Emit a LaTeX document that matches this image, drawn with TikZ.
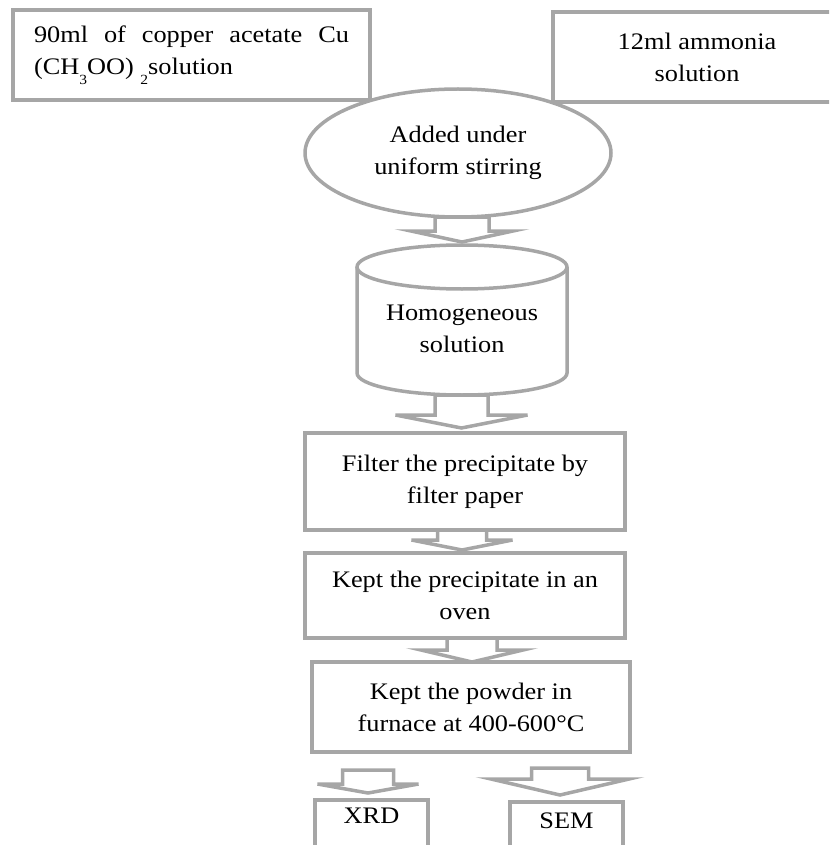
\documentclass[tikz,border=0pt]{standalone}
\usepackage{fontspec}
\setmainfont{Liberation Serif}[FakeStretch=1.11]
\usetikzlibrary{shapes.geometric,calc}

\definecolor{flowgray}{HTML}{A6A6A6}
\newcommand{\flowfont}{\fontsize{23.7}{32}\selectfont}
\newcommand{\lowsub}[1]{\raisebox{-0.4em}{\fontsize{14}{14}\selectfont #1}}

\tikzset{
	flowline/.style={draw=flowgray, line width=3.5pt},
	stepbox/.style={flowline, rectangle, fill=white, inner sep=0pt, outer sep=0pt, align=center, font=\flowfont},
	stirbox/.style={flowline, ellipse, fill=white, inner sep=0pt, outer sep=0pt, align=center, font=\flowfont},
	arrowline/.style={flowline, line join=miter}
}

% block arrow: from, to, centre x, half shaft, half head, head length, top gap, tip gap
\newcommand{\blockarrow}[8]{%
	\draw[arrowline] let \p1=(#1.south), \p2=(#2.north) in
		(#3-#4,\y1-#7) -- (#3-#4,\y2+#8+#6) -- (#3-#5,\y2+#8+#6) -- (#3,\y2+#8)
		-- (#3+#5,\y2+#8+#6) -- (#3+#4,\y2+#8+#6) -- (#3+#4,\y1-#7) -- cycle;}

\begin{document}
\begin{tikzpicture}[x=1pt, y=1pt]
	\useasboundingbox (0,0) rectangle (829,-845);
	\clip (0,0) rectangle (829,-845);

	% Inputs
	\node[stepbox, minimum width=357, minimum height=90, text width=315, align=justify] (acetate) at (191.5,-55)
		{90ml of copper acetate Cu\linebreak (CH\lowsub{3}OO) \lowsub{2}solution};
	\node[stepbox, minimum width=288, minimum height=90] (ammonia) at (697,-57) {12ml ammonia\\solution};

	% Mixing
	\node[stirbox, minimum width=306, minimum height=128] (stir) at (458,-153) {Added under\\uniform stirring};

	% Homogeneous solution (drum)
	\node[rectangle, inner sep=0pt, outer sep=0pt, minimum width=210, minimum height=150] (drum) at (462,-320) {};
	\draw[flowline] ($(drum.north west)+(0,-22)$) -- ($(drum.south west)+(0,22)$)
		arc[start angle=180, end angle=360, x radius=105, y radius=22] -- ($(drum.north east)+(0,-22)$);
	\draw[flowline] ($(drum.north)+(0,-22)$) ellipse [x radius=105, y radius=22];
	\node[font=\flowfont, align=center] (drumtext) at (462,-329) {Homogeneous\\solution};

	% Processing steps
	\node[stepbox, minimum width=320, minimum height=97] (filter) at (465,-481.5) {Filter the precipitate by\\filter paper};
	\node[stepbox, minimum width=320, minimum height=85] (oven) at (465,-595.5) {Kept the precipitate in an\\oven};
	\node[stepbox, minimum width=318, minimum height=90] (furnace) at (471,-707) {Kept the powder in\\furnace at 400-600°C};

	% Characterisation
	\node[stepbox, minimum width=113, minimum height=66, text height=16pt, text depth=36pt] (xrd) at (371.5,-833) {XRD};
	\node[stepbox, minimum width=113, minimum height=72, text height=16pt, text depth=36pt] (sem) at (566.5,-838) {SEM};

	% Block arrows
	\blockarrow{stir}{drum}{462}{27}{51}{11}{0}{3}
	\blockarrow{drum}{filter}{461.5}{26.5}{66}{13}{0}{5}
	\blockarrow{filter}{oven}{462}{24.5}{50.5}{10}{0}{3}
	\blockarrow{oven}{furnace}{472}{25}{51}{12}{0}{0}
	\blockarrow{furnace}{xrd}{368}{25.5}{50.5}{9}{18}{7}
	\blockarrow{furnace}{sem}{560}{28.5}{69}{16}{16}{7}
\end{tikzpicture}
\end{document}
